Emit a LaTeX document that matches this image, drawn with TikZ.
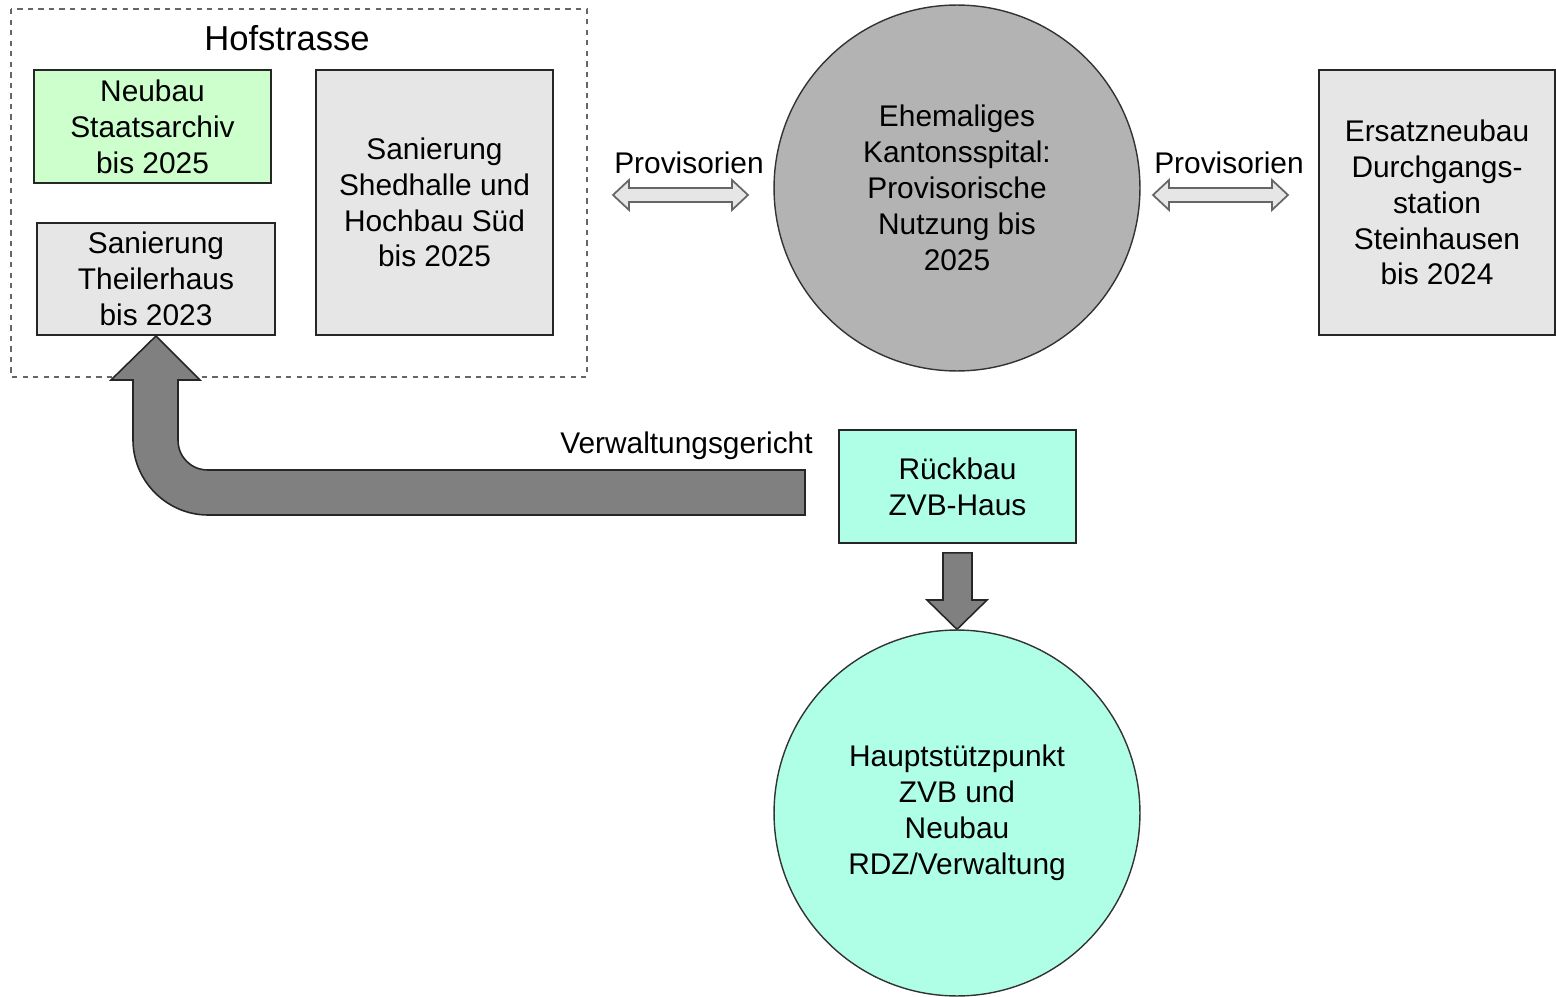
\documentclass[tikz,border=0pt]{standalone}
\usepackage{fontspec}
\setmainfont{Liberation Sans}
\usepackage{tikz}
\usetikzlibrary{calc}

\definecolor{hellgrau}{RGB}{230,230,230}
\definecolor{mittelgrau}{RGB}{179,179,179}
\definecolor{pfeilgrau}{RGB}{128,128,128}
\definecolor{hellgruen}{RGB}{204,255,204}
\definecolor{tuerkis}{RGB}{175,255,230}

\tikzset{
  haus/.style={draw=black!85, line width=1.1pt, fill=hellgrau, inner sep=0pt,
    minimum width=4.74cm, minimum height=2.26cm, align=center,
    font=\fontsize{17}{20.4}\selectfont},
  areal/.style={circle, draw=black!80, line width=0.8pt, inner sep=0pt,
    minimum size=7.32cm, align=center, font=\fontsize{17}{20.4}\selectfont},
  rahmen/.style={draw=black!60, dashed, line width=0.6pt},
  provpfeil/.style={draw=black!60, fill=hellgrau, line width=1pt, line join=miter},
  grosspfeil/.style={draw=black!85, fill=pfeilgrau, line width=0.9pt, line join=miter},
  beschriftung/.style={inner sep=0pt, font=\fontsize{17}{20.4}\selectfont}
}

\begin{document}
\begin{tikzpicture}[x=0.02cm,y=-0.02cm]
\useasboundingbox (0,0) rectangle (1556,997);
\draw[rahmen] (11,9) rectangle (587,377);
\node[inner sep=0pt, font=\fontsize{19.7}{24}\selectfont] (hof) at (287,38) {Hofstrasse};
\node[haus, fill=hellgruen] (neubau) at (152.5,126.5) {Neubau\\Staatsarchiv\\bis 2025};
\node[haus, minimum width=4.76cm, minimum height=2.24cm] (theiler) at (156,279) {Sanierung\\Theilerhaus\\bis 2023};
\node[haus, minimum height=5.3cm] (shed) at (434.5,202.5) {Sanierung\\Shedhalle und\\Hochbau Süd\\bis 2025};
\node[areal, fill=mittelgrau] (spital) at (957,188) {Ehemaliges\\Kantonsspital:\\Provisorische\\Nutzung bis\\2025};
\node[haus, minimum width=4.72cm, minimum height=5.3cm] (ersatz) at (1437,202.5) {Ersatzneubau\\Durchgangs-\\station\\Steinhausen\\bis 2024};
\node[haus, fill=tuerkis] (rueckbau) at (957.5,486.5) {Rückbau\\ZVB-Haus};
\node[areal, fill=tuerkis] (haupt) at (957,813) {Hauptstützpunkt\\ZVB und\\Neubau\\RDZ/Verwaltung};

\node[beschriftung] (prov1) at (689,163) {Provisorien};
\node[beschriftung] (prov2) at (1229,163) {Provisorien};
\node[beschriftung, anchor=east] (gericht) at (813,446) {Verwaltungsgericht};

\draw[provpfeil] (613,195) -- (629,180) -- (629,188) -- (732,188) -- (732,180) -- (748,195)
  -- (732,210) -- (732,202) -- (629,202) -- (629,210) -- cycle;
\draw[provpfeil] (1153,195) -- (1169,180) -- (1169,188) -- (1272,188) -- (1272,180) -- (1288,195)
  -- (1272,210) -- (1272,202) -- (1169,202) -- (1169,210) -- cycle;

\draw[grosspfeil] (805,470) -- (208,470) .. controls (191,470) and (178,457) .. (178,440)
  -- (178,380) -- (200,380) -- (theiler.south) -- (111,380) -- (133,380) -- (133,440)
  .. controls (133,481) and (167,515) .. (208,515) -- (805,515) -- cycle;
\draw[grosspfeil] ($(rueckbau.south)+(-14.5,9)$) -- ($(rueckbau.south)+(14.5,9)$)
  -- (972,600) -- (987,600) -- (haupt.north) -- (927,600) -- (943,600) -- cycle;
\end{tikzpicture}
\end{document}
